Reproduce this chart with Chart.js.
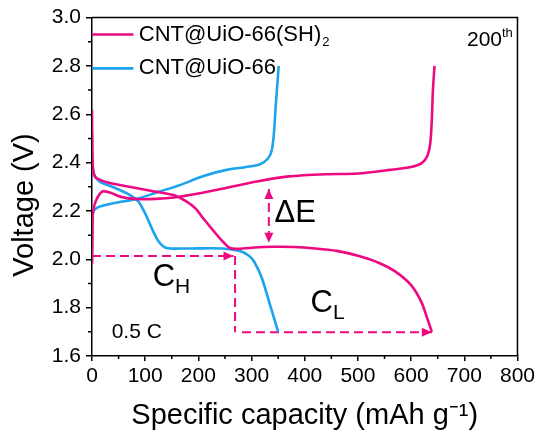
<!DOCTYPE html>
<html lang="en">
<head>
  <meta charset="UTF-8" />
  <title>Voltage profiles</title>
  <script src="https://cdn.jsdelivr.net/npm/chart.js"></script>
  <style>
    html, body { margin: 0; padding: 0; background: #fff; }
    #wrap { width: 538px; height: 433px; }
  </style>
</head>
<body>
  <div id="wrap"><canvas id="chart" width="538" height="433"></canvas></div>

  <script>
    // CNT@UiO-66(SH)2 discharge / charge
    const capSHDis = [0, 0.5, 2, 5, 10, 30, 70, 110, 153, 178, 195, 209, 240, 259, 272, 300, 340, 380, 420, 460, 500, 540, 570, 600, 620, 632, 639];
    const voltSHDis = [2.62, 2.45, 2.37, 2.345, 2.334, 2.318, 2.30, 2.284, 2.266, 2.239, 2.21, 2.17, 2.088, 2.047, 2.043, 2.048, 2.052, 2.051, 2.045, 2.035, 2.015, 1.985, 1.95, 1.893, 1.82, 1.745, 1.70];
    const capSHChg = [0, 0.5, 1, 3, 8, 15, 22, 35, 55, 85, 120, 155, 200, 250, 310, 370, 440, 500, 560, 600, 620, 630, 636, 639, 641, 644];
    const voltSHChg = [1.98, 2.08, 2.17, 2.21, 2.245, 2.272, 2.282, 2.275, 2.258, 2.249, 2.25, 2.256, 2.272, 2.294, 2.322, 2.343, 2.352, 2.355, 2.37, 2.382, 2.398, 2.425, 2.48, 2.58, 2.70, 2.80];

    // CNT@UiO-66 discharge / charge
    const capUiODis = [0, 0.5, 2, 5, 15, 40, 70, 87, 100, 112, 125, 140, 180, 246, 278, 295, 305, 319, 334, 350];
    const voltUiODis = [2.52, 2.42, 2.37, 2.345, 2.32, 2.298, 2.268, 2.24, 2.19, 2.13, 2.075, 2.047, 2.045, 2.045, 2.034, 2.015, 1.99, 1.925, 1.817, 1.70];
    const capUiOChg = [0, 0.5, 1, 3, 10, 20, 50, 80, 120, 165, 210, 253, 290, 315, 330, 338, 342, 345, 348, 351];
    const voltUiOChg = [1.99, 2.1, 2.17, 2.2, 2.214, 2.222, 2.236, 2.248, 2.275, 2.307, 2.345, 2.37, 2.382, 2.392, 2.415, 2.45, 2.52, 2.62, 2.71, 2.80];

    // dashed guide lines (C_H, C_L, ΔE)
    const capGuideH = [0, 266];
    const voltGuideH = [2.014, 2.014];
    const capGuideV = [269, 269];
    const voltGuideV = [2.014, 1.698];
    const capGuideL = [282, 639];
    const voltGuideL = [1.698, 1.698];
    const capDeltaE = [332.5, 332.5];
    const voltDeltaE = [2.291, 2.069];

    const seriesNames = ['CNT@UiO-66(SH)', 'CNT@UiO-66'];
    const seriesSubs = ['2', ''];
    const xTicks = [0, 100, 200, 300, 400, 500, 600, 700, 800];
    const yTicks = [1.6, 1.8, 2.0, 2.2, 2.4, 2.6, 2.8, 3.0];

    const PINK = '#ED0A80';
    const BLUE = '#1CA3EE';
    const FONT = 'Arial, "Liberation Sans", sans-serif';

    function pts(xs, ys) {
      return xs.map((x, i) => ({ x: x, y: ys[i] }));
    }

    function curve(xs, ys, color) {
      return { data: pts(xs, ys), borderColor: color, borderWidth: 2.6, showLine: true, pointRadius: 0, tension: 0.25, fill: false };
    }

    function dashed(xs, ys) {
      return { data: pts(xs, ys), borderColor: PINK, borderWidth: 2, borderDash: [9, 5], showLine: true, pointRadius: 0, tension: 0, fill: false };
    }

    // frame, minor ticks, arrows, labels, legend
    const extras = {
      id: 'extras',
      afterDatasetsDraw(chart) {
        const ctx = chart.ctx;
        const xs = chart.scales.x, ys = chart.scales.y;
        const a = chart.chartArea;
        const px = v => xs.getPixelForValue(v);
        const py = v => ys.getPixelForValue(v);

        ctx.save();
        ctx.strokeStyle = '#000';
        ctx.lineWidth = 1.5;
        ctx.beginPath();
        ctx.moveTo(a.left, a.top); ctx.lineTo(a.right, a.top); ctx.lineTo(a.right, a.bottom);
        ctx.stroke();

        // minor ticks
        ctx.beginPath();
        for (let i = 0; i < xTicks.length - 1; i++) {
          const x = px((xTicks[i] + xTicks[i + 1]) / 2);
          ctx.moveTo(x, a.bottom); ctx.lineTo(x, a.bottom + 3);
        }
        for (let i = 0; i < yTicks.length - 1; i++) {
          const y = py((yTicks[i] + yTicks[i + 1]) / 2);
          ctx.moveTo(a.left, y); ctx.lineTo(a.left - 4, y);
        }
        ctx.stroke();

        // arrowheads
        ctx.fillStyle = PINK;
        function head(x, y, dir) {
          ctx.save();
          ctx.translate(x, y);
          ctx.rotate(dir);
          ctx.beginPath();
          ctx.moveTo(0, 0); ctx.lineTo(-10, -4.5); ctx.lineTo(-10, 4.5);
          ctx.closePath();
          ctx.fill();
          ctx.restore();
        }
        head(px(capGuideH[1]), py(voltGuideH[1]), 0);
        head(px(capGuideL[1]), py(voltGuideL[1]), 0);
        head(px(capDeltaE[0]), py(voltDeltaE[0]), -Math.PI / 2);
        head(px(capDeltaE[1]), py(voltDeltaE[1]), Math.PI / 2);

        // legend
        const leg = [[PINK, 2.93], [BLUE, 2.79]];
        ctx.lineWidth = 2.6;
        ctx.textBaseline = 'middle';
        ctx.textAlign = 'left';
        leg.forEach((l, i) => {
          ctx.strokeStyle = l[0];
          ctx.beginPath();
          ctx.moveTo(px(0), py(l[1])); ctx.lineTo(px(78), py(l[1]));
          ctx.stroke();
          ctx.fillStyle = '#000';
          ctx.font = '22px ' + FONT;
          ctx.fillText(seriesNames[i], px(88), py(l[1]));
          if (seriesSubs[i]) {
            const w = ctx.measureText(seriesNames[i]).width;
            ctx.font = '13px ' + FONT;
            ctx.fillText(seriesSubs[i], px(88) + w + 1, py(l[1]) + 8);
          }
        });

        // annotations
        ctx.fillStyle = '#000';
        ctx.font = '31px ' + FONT;
        ctx.fillText('ΔE', px(343), py(2.19));
        ctx.fillText('C', px(114), py(1.927));
        let w = ctx.measureText('C').width;
        ctx.font = '21px ' + FONT;
        ctx.fillText('H', px(114) + w, py(1.927) + 10);
        ctx.font = '31px ' + FONT;
        ctx.fillText('C', px(411), py(1.818));
        w = ctx.measureText('C').width;
        ctx.font = '21px ' + FONT;
        ctx.fillText('L', px(411) + w, py(1.818) + 10);
        ctx.fillText('0.5 C', px(37), py(1.70));
        ctx.fillText('200', px(705), py(2.905));
        w = ctx.measureText('200').width;
        ctx.font = '13px ' + FONT;
        ctx.fillText('th', px(705) + w, py(2.905) - 7);

        // y axis title
        ctx.font = '29px ' + FONT;
        ctx.textAlign = 'center';
        ctx.translate(25, 205);
        ctx.rotate(-Math.PI / 2);
        ctx.fillText('Voltage (V)', 0, 0);
        ctx.restore();
      }
    };

    new Chart(document.getElementById('chart'), {
      type: 'scatter',
      data: {
        datasets: [
          curve(capSHDis, voltSHDis, PINK),
          curve(capSHChg, voltSHChg, PINK),
          curve(capUiODis, voltUiODis, BLUE),
          curve(capUiOChg, voltUiOChg, BLUE),
          dashed(capGuideH, voltGuideH),
          dashed(capGuideV, voltGuideV),
          dashed(capGuideL, voltGuideL),
          dashed(capDeltaE, voltDeltaE)
        ]
      },
      options: {
        responsive: false,
        animation: false,
        layout: { padding: { top: 14, right: 20, left: 0, bottom: 0 } },
        plugins: { legend: { display: false }, tooltip: { enabled: false } },
        scales: {
          x: {
            type: 'linear', min: 0, max: 800,
            afterFit: s => { s.height = 77; },
            afterBuildTicks: s => { s.ticks = xTicks.map(v => ({ value: v })); },
            ticks: { color: '#000', font: { family: FONT, size: 21 }, padding: 3, maxRotation: 0 },
            grid: { drawOnChartArea: false, drawTicks: true, tickLength: 5, color: '#000', lineWidth: 1.5 },
            border: { color: '#000', width: 1.5 },
            title: { display: true, text: 'Specific capacity (mAh g⁻¹)', color: '#000', font: { family: FONT, size: 29 }, padding: { top: 1, bottom: 0 } }
          },
          y: {
            type: 'linear', min: 1.6, max: 3.0,
            afterFit: s => { s.width = 92; },
            afterBuildTicks: s => { s.ticks = yTicks.map(v => ({ value: v })); },
            ticks: { color: '#000', font: { family: FONT, size: 21 }, padding: 5, callback: v => v.toFixed(1) },
            grid: { drawOnChartArea: false, drawTicks: true, tickLength: 6, color: '#000', lineWidth: 1.5 },
            border: { color: '#000', width: 1.5 }
          }
        }
      },
      plugins: [extras]
    });
  </script>
</body>
</html>
